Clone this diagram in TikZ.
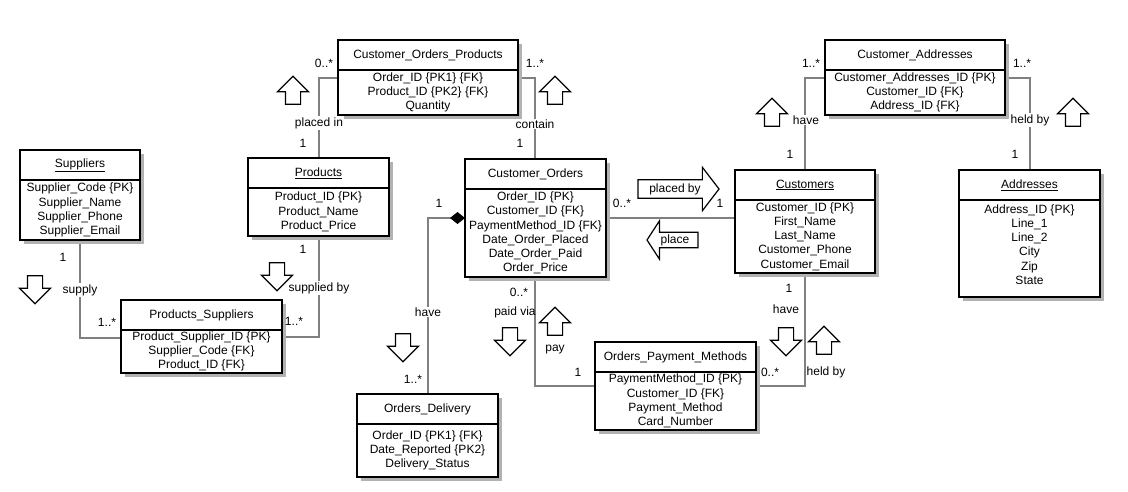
\documentclass[tikz,border=0pt]{standalone}
\usepackage{fontspec}
\setmainfont{Liberation Sans}
\usetikzlibrary{positioning,shapes.arrows,shadows,arrows.meta}
\tikzset{
  entHead/.style={draw,line width=1.5pt,fill=white,minimum height=30pt,
    inner sep=0pt,outer sep=0pt,font=\fontsize{12}{14.2}\selectfont,
    drop shadow={shadow xshift=4pt,shadow yshift=-4pt,fill=black!30,opacity=1}},
  entBody/.style={entHead,minimum height=0pt,align=center,inner ysep=1pt},
  link/.style={draw=black!50,line width=1.5pt},
  lbl/.style={inner sep=1pt,font=\fontsize{12}{14}\selectfont},
  onlink/.style={lbl,fill=white},
  hollow/.style={single arrow,draw,line width=1.2pt,fill=white,inner xsep=0pt,
    inner ysep=7pt,minimum width=30pt,minimum height=28pt,
    single arrow head extend=8pt,single arrow tip angle=90},
  upArrow/.style={hollow,rotate=90},
  downArrow/.style={hollow,rotate=-90}
}
% entity: name, title, top left corner, width, body height, body lines
\newcommand{\newEntity}[6]{%
  \node[entHead,minimum width=#4,anchor=north west](#1) at (#3) {#2};
  \node[entBody,minimum width=#4,minimum height=#5,below=0pt of #1](#1B) {#6};}
\newcommand{\newLink}[3]{\path[link,#3] (#1) |- (#2);}

\begin{document}
\begin{tikzpicture}[x=1pt,y=-1pt]
  \useasboundingbox[fill=white] (0,0) rectangle (1128,492);

  % connectors first, boxes on top
  \coordinate (psL) at (121,338);
  \coordinate (psR) at (282,337);
  \coordinate (copL) at (338,78);
  \coordinate (copR) at (518,78);
  \coordinate (coL) at (465,218);
  \coordinate (coR) at (606,218);
  \coordinate (opmL) at (595,386);
  \coordinate (opmR) at (756,386);
  \coordinate (caL) at (825,78);
  \coordinate (caR) at (1005,78);
  \newLink{80,240}{psL}{}
  \newLink{319,236}{psR}{}
  \newLink{319,158}{copL}{}
  \newLink{535,159}{copR}{}
  \path[link] (coR) -- (735,218);
  \newLink{428,394}{coL}{-{Diamond[length=15pt,width=12pt,color=black]}}
  \newLink{535,277}{opmL}{}
  \newLink{805,273}{opmR}{}
  \newLink{805,170}{caL}{}
  \newLink{1030,170}{caR}{}

  % entities
  \newEntity{sup}{\underline{Suppliers}}{20,150}{120pt}{60pt}{Supplier\_Code \{PK\}\\Supplier\_Name\\Supplier\_Phone\\Supplier\_Email}
  \newEntity{prod}{\underline{Products}}{248,158}{141pt}{48pt}{Product\_ID \{PK\}\\Product\_Name\\Product\_Price}
  \newEntity{cop}{Customer\_Orders\_Products}{338,40}{180pt}{45pt}{Order\_ID \{PK1\} \{FK\}\\Product\_ID \{PK2\} \{FK\}\\Quantity}
  \newEntity{co}{Customer\_Orders}{465,159}{141pt}{88pt}{Order\_ID \{PK\}\\Customer\_ID \{FK\}\\PaymentMethod\_ID \{FK\}\\Date\_Order\_Placed\\Date\_Order\_Paid\\Order\_Price}
  \newEntity{cust}{\underline{Customers}}{735,170}{140pt}{73pt}{Customer\_ID \{PK\}\\First\_Name\\Last\_Name\\Customer\_Phone\\Customer\_Email}
  \newEntity{ca}{Customer\_Addresses}{825,40}{180pt}{45pt}{Customer\_Addresses\_ID \{PK\}\\Customer\_ID \{FK\}\\Address\_ID \{FK\}}
  \newEntity{addr}{\underline{Addresses}}{959,170}{141pt}{97pt}{Address\_ID \{PK\}\\Line\_1\\Line\_2\\City\\Zip\\State\rule[-8pt]{0pt}{8pt}}
  \newEntity{ps}{Products\_Suppliers}{121,300}{161pt}{43pt}{Product\_Supplier\_ID \{PK\}\\Supplier\_Code \{FK\}\\Product\_ID \{FK\}}
  \newEntity{od}{Orders\_Delivery}{357,394}{141pt}{53pt}{Order\_ID \{PK1\} \{FK\}\\Date\_Reported \{PK2\}\\Delivery\_Status}
  \newEntity{opm}{Orders\_Payment\_Methods}{595,342}{161pt}{58pt}{PaymentMethod\_ID \{PK\}\\Customer\_ID \{FK\}\\Payment\_Method\\Card\_Number}

  % multiplicities and roles
  \node[lbl] (m1) at (63,257) {1};
  \node[onlink] (r1) at (80,290) {supply};
  \node[lbl] (m2) at (107,322) {1..*};
  \node[lbl] (m3) at (303,249) {1};
  \node[onlink] (r2) at (319,288) {supplied by};
  \node[lbl] (m4) at (294,321) {1..*};
  \node[lbl] (m5) at (324,63) {0..*};
  \node[onlink] (r3) at (319,123) {placed in};
  \node[lbl] (m6) at (303,143) {1};
  \node[lbl] (m7) at (535,63) {1..*};
  \node[onlink] (r4) at (535,124) {contain};
  \node[lbl] (m8) at (520,143) {1};
  \node[lbl] (m9) at (622,203) {0..*};
  \node[lbl] (m10) at (720,203) {1};
  \node[lbl] (m11) at (439,203) {1};
  \node[onlink] (r5) at (428,312) {have};
  \node[lbl] (m12) at (413,379) {1..*};
  \node[lbl] (m13) at (519,292) {0..*};
  \node[lbl] (r6) at (515,312) {paid via};
  \node[lbl] (r7) at (555,350) {pay};
  \node[lbl] (m14) at (578,372) {1};
  \node[lbl] (m15) at (789,288) {1};
  \node[lbl] (r8) at (786,309) {have};
  \node[lbl] (m16) at (770,372) {0..*};
  \node[lbl] (r9) at (826,372) {held by};
  \node[lbl] (m17) at (811,63) {1..*};
  \node[onlink] (r10) at (806,120) {have};
  \node[lbl] (m18) at (790,154) {1};
  \node[lbl] (m19) at (1022,63) {1..*};
  \node[onlink] (r11) at (1030,120) {held by};
  \node[lbl] (m20) at (1015,154) {1};

  % reading direction arrows
  \node[downArrow] (a1) at (35,286) {};
  \node[downArrow] (a2) at (277,273) {};
  \node[upArrow] (a3) at (293,94) {};
  \node[upArrow] (a4) at (555,94) {};
  \node[downArrow] (a5) at (403,344) {};
  \node[downArrow] (a6) at (510,338) {};
  \node[upArrow] (a7) at (555,325) {};
  \node[downArrow] (a8) at (786,338) {};
  \node[upArrow] (a9) at (824,344) {};
  \node[upArrow] (a10) at (772,116) {};
  \node[upArrow] (a11) at (1073,116) {};
  \node[hollow,font=\fontsize{12}{14}\selectfont,inner ysep=3pt,minimum width=42pt,
    minimum height=81pt,single arrow head extend=12.5pt,single arrow tip angle=105]
    (a12) at (675,189) {placed by};
  \node[hollow,font=\fontsize{12}{14}\selectfont,inner ysep=1.5pt,minimum width=37pt,
    minimum height=51pt,single arrow head extend=11.5pt,single arrow tip angle=114,
    shape border rotate=180] (a13) at (675,240) {place};
\end{tikzpicture}
\end{document}
